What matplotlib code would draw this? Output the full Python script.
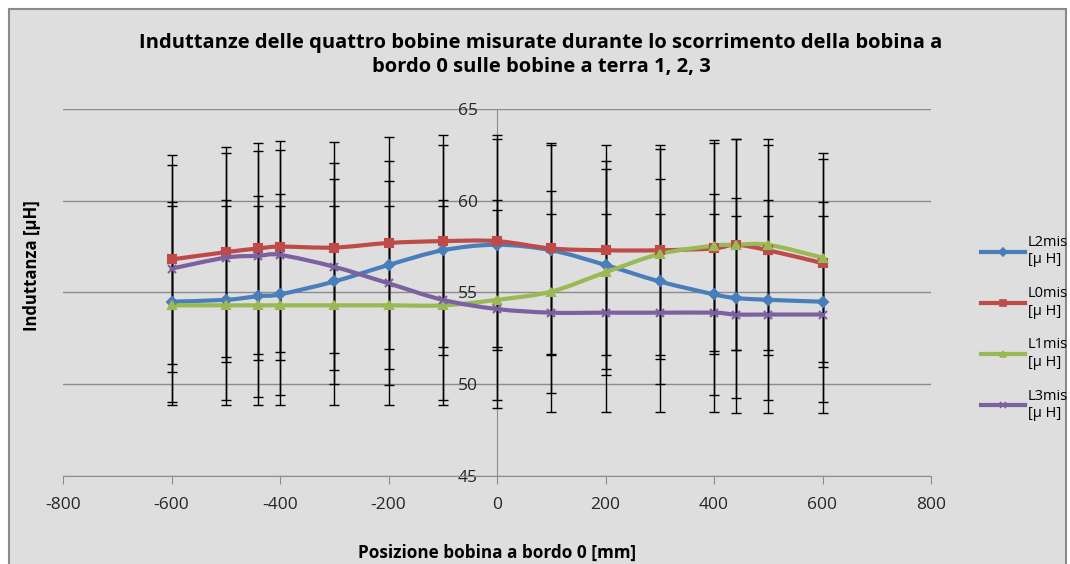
import matplotlib
matplotlib.use("Agg")
import matplotlib.pyplot as plt
import numpy as np
from matplotlib.patches import PathPatch, Rectangle
from matplotlib.path import Path
from matplotlib.lines import Line2D

plt.rcParams["axes.unicode_minus"] = False

# posizioni della bobina a bordo 0 [mm]
pos = [-600, -500, -440, -400, -300, -200, -100, 0, 100, 200, 300, 400, 440, 500, 600]

# induttanze misurate [uH]
L2mis = [54.5, 54.6, 54.8, 54.9, 55.6, 56.5, 57.3, 57.6, 57.3, 56.5, 55.6, 54.9, 54.7, 54.6, 54.5]
L0mis = [56.8, 57.2, 57.4, 57.5, 57.45, 57.7, 57.8, 57.8, 57.4, 57.3, 57.3, 57.4, 57.6, 57.3, 56.6]
L1mis = [54.3, 54.3, 54.3, 54.3, 54.3, 54.3, 54.3, 54.6, 55.05, 56.1, 57.1, 57.55, 57.6, 57.6, 56.9]
L3mis = [56.3, 56.9, 57.0, 57.05, 56.4, 55.5, 54.6, 54.1, 53.9, 53.9, 53.9, 53.9, 53.8, 53.8, 53.8]

err_frac = 0.10  # errore relativo 10%

series = [
    ("L2mis\n[µ H]", L2mis, "#4A7EBB", "D", 5),
    ("L0mis\n[µ H]", L0mis, "#BE4B48", "s", 6),
    ("L1mis\n[µ H]", L1mis, "#98B954", "^", 6),
    ("L3mis\n[µ H]", L3mis, "#7D60A0", "x", 6),
]

BG = "#DEDEDE"
FONT = "Open Sans"


def smooth_path(xs, ys):
    # curva di Bezier stile "linea smussata" (Catmull-Rom)
    pts = np.column_stack([xs, ys]).astype(float)
    verts = [pts[0]]
    codes = [Path.MOVETO]
    n = len(pts)
    for i in range(n - 1):
        p0 = pts[i - 1] if i > 0 else pts[i]
        p1 = pts[i]
        p2 = pts[i + 1]
        p3 = pts[i + 2] if i + 2 < n else pts[i + 1]
        c1 = p1 + (p2 - p0) / 6.0
        c2 = p2 - (p3 - p1) / 6.0
        verts += [c1, c2, p2]
        codes += [Path.CURVE4] * 3
    return Path(verts, codes)


fig = plt.figure(figsize=(10.7, 5.64), dpi=100, facecolor="white")
fig.patches.append(Rectangle((9 / 1070, -0.1), 1057 / 1070, 1 - 9 / 564 + 0.1,
                             transform=fig.transFigure, facecolor=BG,
                             edgecolor="#8A8A8A", linewidth=1.5, zorder=-10))

ax = fig.add_axes([63 / 1070, 88 / 564, 868 / 1070, 367 / 564])
ax.set_facecolor(BG)
ax.patch.set_alpha(0)

handles = []
for label, vals, color, marker, ms in series:
    vals = np.array(vals)
    ax.add_patch(PathPatch(smooth_path(pos, vals), facecolor="none", edgecolor=color,
                           linewidth=3, zorder=2, capstyle="round"))
    ax.errorbar(pos, vals, yerr=err_frac * vals, fmt="none", ecolor="black",
                elinewidth=1, capsize=3.3, capthick=1, zorder=3)
    ax.plot(pos, vals, linestyle="none", marker=marker, markersize=ms, color=color,
            markeredgecolor=color, markeredgewidth=1.5, zorder=4)
    handles.append(Line2D([], [], color=color, linewidth=3, marker=marker,
                          markersize=ms - 1, markeredgewidth=1.2, label=label))

ax.set_xlim(-800, 800)
ax.set_ylim(45, 65)
ax.set_xticks(np.arange(-800, 801, 200))
ax.set_yticks(np.arange(45, 66, 5))

ax.grid(axis="y", color="#8C8C8C", linewidth=1)
ax.set_axisbelow(True)

for s in ("top", "right"):
    ax.spines[s].set_visible(False)
ax.spines["left"].set_position(("data", 0))
ax.spines["left"].set_color("#8C8C8C")
ax.spines["bottom"].set_color("#8C8C8C")
ax.spines["left"].set_zorder(1)

ax.tick_params(axis="x", direction="out", length=6, color="#8C8C8C", pad=9,
               labelsize=12.5, labelcolor="#262626")
ax.tick_params(axis="y", length=0, pad=14, labelsize=12.5, labelcolor="#262626")
for t in ax.get_xticklabels() + ax.get_yticklabels():
    t.set_fontfamily(FONT)

fig.text(541 / 1070, 1 - 55 / 564, "Induttanze delle quattro bobine misurate durante lo scorrimento della bobina a\n"
         "bordo 0 sulle bobine a terra 1, 2, 3", ha="center", va="center",
         fontsize=14.5, fontweight="bold", fontfamily=FONT, linespacing=1.25)
fig.text(32 / 1070, 1 - 266 / 564, "Induttanza [µH]", rotation=90, ha="center", va="center",
         fontsize=12, fontweight="bold", fontfamily=FONT)
fig.text(497 / 1070, 1 - 553 / 564, "Posizione bobina a bordo 0 [mm]", ha="center", va="center",
         fontsize=12.3, fontweight="bold", fontfamily=FONT)

fig.legend(handles=handles, loc="center left", bbox_to_anchor=(968 / 1070, 1 - 328 / 564),
           frameon=False, prop={"family": FONT, "size": 10.5}, handlelength=3.0,
           handletextpad=0.2, labelspacing=1.3)

fig.savefig("out.png", dpi=100, facecolor="white")
